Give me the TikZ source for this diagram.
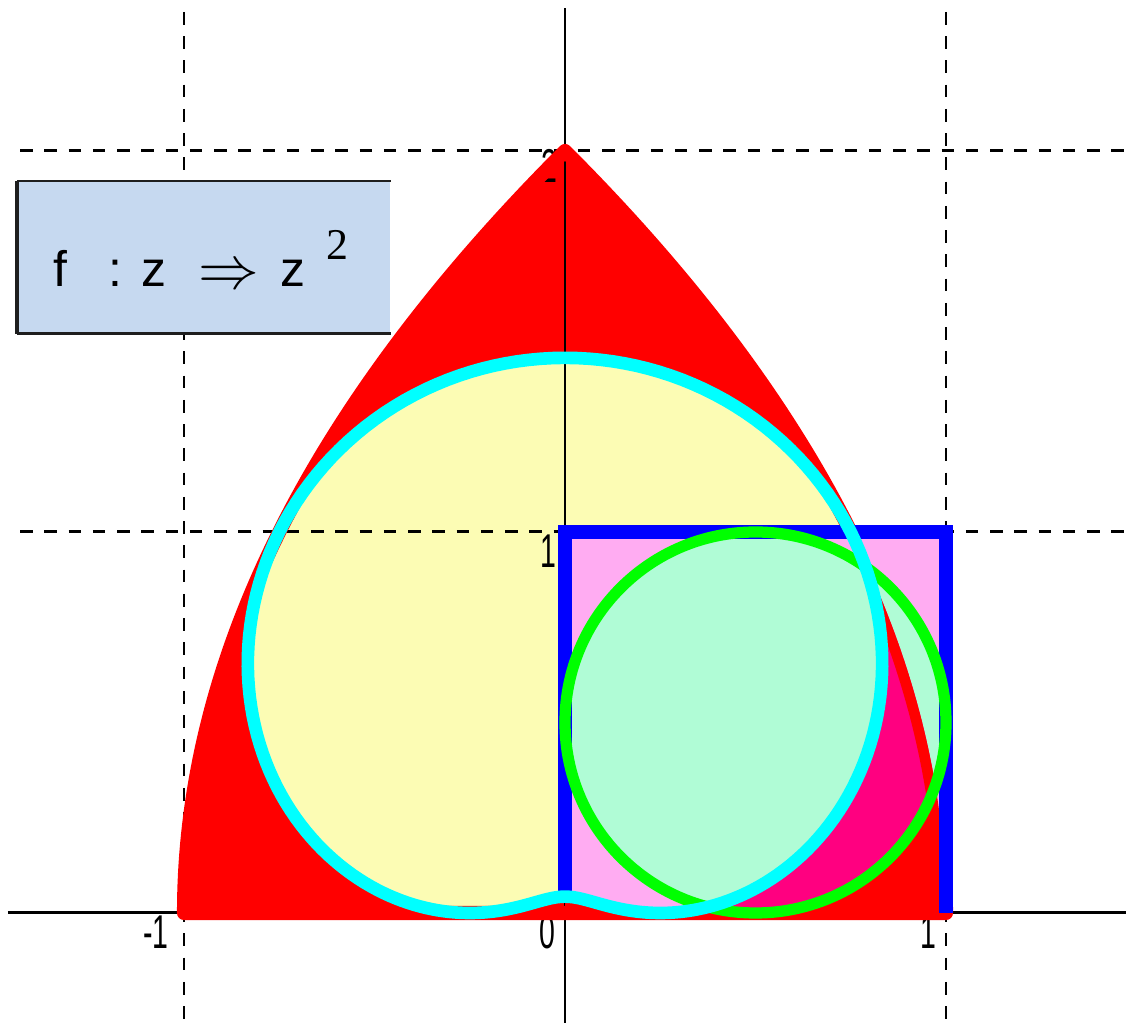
\documentclass[tikz,border=0pt]{standalone}
\usepackage{fontspec}
\usepackage{graphicx}
\newfontfamily\lsans{Liberation Sans}
\newfontfamily\lserif{Liberation Serif}
\definecolor{yel}{RGB}{252,252,180}
\definecolor{pinkfill}{RGB}{255,172,242}
\definecolor{mint}{RGB}{176,252,214}
\definecolor{deeppink}{RGB}{255,0,128}
\definecolor{boxblue}{RGB}{198,217,240}
\definecolor{boxedge}{RGB}{30,30,30}
\definecolor{cyanline}{RGB}{0,255,255}
\definecolor{greenline}{RGB}{0,255,0}
\definecolor{blueline}{RGB}{0,0,255}
\definecolor{redfill}{RGB}{255,0,0}
\tikzset{
 gridline/.style={black, line width=0.85pt, dash pattern=on 3.6pt off 3.3pt},
 axisline/.style={black, line width=0.85pt},
 ticklabel/.style={font=\lsans\fontsize{13.5}{16}\selectfont, inner sep=0pt, anchor=base},
 boxtext/.style={font=\lsans\fontsize{14.2}{17}\selectfont, inner sep=0pt, anchor=base},
 fbox/.style={fill=boxblue, inner sep=0pt, minimum width=3.72cm, minimum height=1.51cm},
}
\begin{document}
\begin{tikzpicture}[x=3.81cm, y=3.81cm]
\useasboundingbox (-1.48294,-0.28871) rectangle (1.47244,2.39633);
% red image of the square
\fill[redfill] (-1,0) -- (1,0) -- plot[domain=0:1,samples=80] ({1-\x*\x},{2*\x}) -- plot[domain=1:0,samples=80] ({\x*\x-1},{2*\x}) -- cycle;
% yellow image of the disc
\fill[yel] plot[domain=0:360,samples=241] ({0.5*(cos(\x)-sin(\x))*(1+0.5*(cos(\x)+sin(\x)))},{0.5*(1+cos(\x))*(1+sin(\x))}) -- cycle;
% grid lines
\coordinate (va1) at (-1,2.365); \coordinate (vb1) at (-1,-0.28871);
\coordinate (va2) at (1,2.365); \coordinate (vb2) at (1,-0.28871);
\coordinate (ha1) at (-1.4304,1); \coordinate (hb1) at (1.47244,1);
\coordinate (ha2) at (-1.4304,2); \coordinate (hb2) at (1.47244,2);
\draw[gridline] (va1) -- (vb1);
\draw[gridline] (va2) -- (vb2);
\draw[gridline] (ha1) -- (hb1);
\draw[gridline] (ha2) -- (hb2);
% axes
\coordinate (xa) at (-1.462,0); \coordinate (xb) at (1.47244,0);
\coordinate (ya) at (0,2.375); \coordinate (yb) at (0,-0.28871);
\draw[axisline] (xa) -- (xb);
\draw[axisline] (ya) -- (yb);
% tick labels
\node[ticklabel] (lm1) at (-1.0735,-0.0919) {\scalebox{0.6}[1]{-1}};
\node[ticklabel] (l0) at (-0.0459,-0.0919) {\scalebox{0.6}[1]{0}};
\node[ticklabel] (lx1) at (0.953,-0.0919) {\scalebox{0.6}[1]{1}};
\node[ticklabel] (ly1) at (-0.0433,0.908) {\scalebox{0.6}[1]{1}};
\node[ticklabel] (ly2) at (-0.0407,1.916) {\scalebox{0.6}[1]{2}};
% red outline of the image
\draw[redfill, line width=4pt, line join=round] (-1,0) -- (1,0) -- plot[domain=0:1,samples=80] ({1-\x*\x},{2*\x}) -- plot[domain=1:0,samples=80] ({\x*\x-1},{2*\x}) -- cycle;
% pink square
\fill[pinkfill] (0,0) rectangle (1,1);
\begin{scope}
\clip (0,0) rectangle (1,1);
\fill[redfill, even odd rule] (-1,0) -- (1,0) -- plot[domain=0:1,samples=80] ({1-\x*\x},{2*\x}) -- plot[domain=1:0,samples=80] ({\x*\x-1},{2*\x}) -- cycle
  plot[domain=0:360,samples=241] ({0.5*(cos(\x)-sin(\x))*(1+0.5*(cos(\x)+sin(\x)))},{0.5*(1+cos(\x))*(1+sin(\x))}) -- cycle;
\end{scope}
% mint disc
\fill[mint] (0.5,0.5) circle[radius=0.5];
\begin{scope}
\clip (0.5,0.5) circle[radius=0.5];
\fill[deeppink, even odd rule] (-1,0) -- (1,0) -- plot[domain=0:1,samples=80] ({1-\x*\x},{2*\x}) -- plot[domain=1:0,samples=80] ({\x*\x-1},{2*\x}) -- cycle
  plot[domain=0:360,samples=241] ({0.5*(cos(\x)-sin(\x))*(1+0.5*(cos(\x)+sin(\x)))},{0.5*(1+cos(\x))*(1+sin(\x))}) -- cycle;
\begin{scope}
\clip (-1,0) -- (1,0) -- plot[domain=0:1,samples=80] ({1-\x*\x},{2*\x}) -- plot[domain=1:0,samples=80] ({\x*\x-1},{2*\x}) -- cycle;
\draw[redfill, line width=6pt] plot[domain=0:1,samples=80] ({1-\x*\x},{2*\x});
\end{scope}
\fill[mint] plot[domain=0:360,samples=241] ({0.5*(cos(\x)-sin(\x))*(1+0.5*(cos(\x)+sin(\x)))},{0.5*(1+cos(\x))*(1+sin(\x))}) -- cycle;
\end{scope}
% blue square outline
\draw[blueline, line width=4pt] (0,0.04) -- (0,1) -- (1,1) -- (1,0);
% green circle
\draw[greenline, line width=3.2pt] (0.5,0.5) circle[radius=0.5];
% cyan image of the circle
\draw[cyanline, line width=3.6pt, line join=round] plot[domain=0:360,samples=241] ({0.5*(cos(\x)-sin(\x))*(1+0.5*(cos(\x)+sin(\x)))},{0.5*(1+cos(\x))*(1+sin(\x))}) -- cycle;
% formula box
\node[fbox] (box) at (-0.9475,1.7205) {};
\draw[boxedge, line width=0.7pt] (box.north east) -- (box.north west);
\draw[boxedge, line width=0.9pt] (box.south west) -- (box.south east);
\draw[boxedge, line width=1.1pt] (box.north west) -- (box.south west);
\node[boxtext] (tf) at (-1.324,1.643) {f};
\node[boxtext] (tc) at (-1.180,1.643) {:};
\node[boxtext] (tz1) at (-1.079,1.643) {z};
\node[boxtext, font=\fontsize{17.5}{20}\selectfont] (tarr) at (-0.883,1.640) {$\Rightarrow$};
\node[boxtext] (tz2) at (-0.715,1.643) {z};
\node[boxtext, font=\lserif\fontsize{12.5}{15}\selectfont] (tsq) at (-0.598,1.714) {2};
\end{tikzpicture}
\end{document}
